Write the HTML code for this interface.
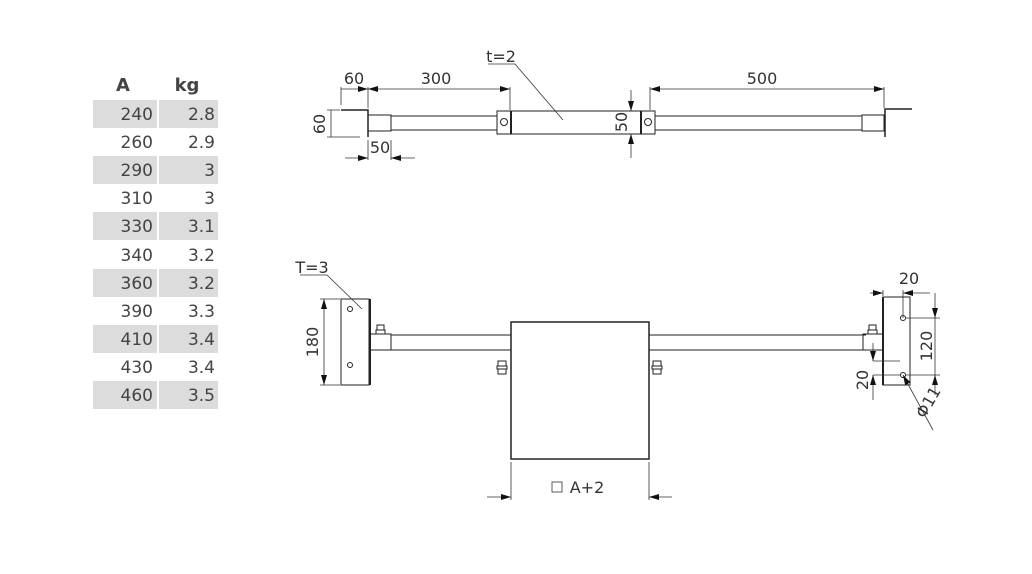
<!DOCTYPE html>
<html><head><style>
body{margin:0;background:#fff;width:1032px;height:570px;overflow:hidden;font-family:"DejaVu Sans","Liberation Sans",sans-serif}
</style></head><body>
<svg width="1032" height="570" viewBox="0 0 1032 570" xmlns="http://www.w3.org/2000/svg">
<defs>
<marker id="a" viewBox="0 0 10 6" refX="10" refY="3" markerWidth="10" markerHeight="6" orient="auto-start-reverse" markerUnits="userSpaceOnUse"><path d="M0,0L10,3L0,6z" fill="#111"/></marker>
</defs>
<!-- table -->
<g font-size="17" fill="#444">
<text x="123" y="91" text-anchor="middle" font-weight="bold" font-size="18" fill="#444">A</text>
<text x="187" y="91" text-anchor="middle" font-weight="bold" font-size="18" fill="#444">kg</text>
<g fill="#dcdcdc">
<rect x="93" y="100" width="64" height="28"/><rect x="159" y="100" width="59" height="28"/>
<rect x="93" y="156" width="64" height="28"/><rect x="159" y="156" width="59" height="28"/>
<rect x="93" y="212" width="64" height="28"/><rect x="159" y="212" width="59" height="28"/>
<rect x="93" y="269" width="64" height="28"/><rect x="159" y="269" width="59" height="28"/>
<rect x="93" y="325" width="64" height="28"/><rect x="159" y="325" width="59" height="28"/>
<rect x="93" y="381" width="64" height="28"/><rect x="159" y="381" width="59" height="28"/>
</g>
<g text-anchor="end">
<text x="153" y="120">240</text><text x="215" y="120">2.8</text>
<text x="153" y="148">260</text><text x="215" y="148">2.9</text>
<text x="153" y="176">290</text><text x="215" y="176">3</text>
<text x="153" y="204">310</text><text x="215" y="204">3</text>
<text x="153" y="232">330</text><text x="215" y="232">3.1</text>
<text x="153" y="261">340</text><text x="215" y="261">3.2</text>
<text x="153" y="289">360</text><text x="215" y="289">3.2</text>
<text x="153" y="317">390</text><text x="215" y="317">3.3</text>
<text x="153" y="345">410</text><text x="215" y="345">3.4</text>
<text x="153" y="373">430</text><text x="215" y="373">3.4</text>
<text x="153" y="401">460</text><text x="215" y="401">3.5</text>
</g>
</g>
<!-- top view -->
<g stroke="#222" fill="none" stroke-width="1">
<path d="M341,110H368V137" stroke-width="1.5"/>
<rect x="368" y="115" width="23" height="16"/>
<path d="M391,116H497M391,130H497"/>
<rect x="497" y="111" width="158" height="23"/>
<path d="M511,111V134M641,111V134" stroke-width="2"/>
<circle cx="504" cy="122" r="3.5"/><circle cx="648" cy="122" r="3.5"/>
<path d="M655,116H862M655,130H862"/>
<rect x="862" y="115" width="22" height="16"/>
<path d="M885,137V109H912" stroke-width="1.5"/>
<g stroke="#333" stroke-width="0.8">
<path d="M341,87V105M368,87V108M510,87V110M650,87V110M884,87V108"/>
<path d="M341,89H368" marker-end="url(#a)"/><path d="M368,89H510" marker-start="url(#a)" marker-end="url(#a)"/>
<path d="M650,89H884" marker-start="url(#a)" marker-end="url(#a)"/>
<path d="M327,110H340M327,137H360M331,110V137" />
<path d="M368,140V160M391,140V160M345,158H368" marker-end="url(#a)"/><path d="M415,158H391" marker-end="url(#a)"/>
<path d="M631,90V111" marker-end="url(#a)"/><path d="M631,158V134" marker-end="url(#a)"/>
<path d="M488,64H515L563,120"/>
</g>
</g>
<g font-size="16" fill="#333" font-family="DejaVu Sans,sans-serif">
<text x="354" y="84" text-anchor="middle">60</text>
<text x="436" y="84" text-anchor="middle">300</text>
<text x="762" y="84" text-anchor="middle">500</text>
<text x="501" y="62" text-anchor="middle">t=2</text>
<text x="380" y="153" text-anchor="middle">50</text>
<text transform="translate(325,124) rotate(-90)" text-anchor="middle">60</text>
<text transform="translate(627,122) rotate(-90)" text-anchor="middle">50</text>
</g>
<!-- bottom view -->
<g stroke="#222" fill="none" stroke-width="1">
<rect x="341" y="299" width="28" height="86"/>
<path d="M370,299V385" stroke-width="2"/>
<rect x="369" y="334" width="22" height="16"/>
<path d="M391,335H511M391,350H511M649,335H866M649,350H866"/>
<rect x="511" y="322" width="138" height="137" stroke-width="1.5"/>
<rect x="883" y="297" width="27" height="88"/>
<path d="M883,297V385" stroke-width="2"/>
<rect x="863" y="334" width="20" height="16"/>
<circle cx="350" cy="309" r="2.5"/><circle cx="350" cy="365" r="2.5"/>
<circle cx="903" cy="318" r="2.5"/><circle cx="903" cy="375" r="2.5"/>
<rect x="377" y="325" width="7" height="5"/><rect x="376" y="330" width="9" height="4"/>
<rect x="869" y="325" width="7" height="5"/><rect x="868" y="330" width="9" height="4"/>
<rect x="498" y="361" width="8" height="5"/><rect x="497" y="366" width="10" height="3"/><rect x="498" y="369" width="8" height="5"/>
<rect x="653" y="361" width="8" height="5"/><rect x="652" y="366" width="10" height="3"/><rect x="653" y="369" width="8" height="5"/>
<g stroke="#333" stroke-width="0.8">
<path d="M320,299H340M320,385H340"/><path d="M324,341V299" marker-end="url(#a)"/><path d="M324,341V385" marker-end="url(#a)"/>
<path d="M300,275H327L362,309"/>
<path d="M511,462V500M649,462V500"/><path d="M487,497H511" marker-end="url(#a)"/><path d="M672,497H649" marker-end="url(#a)"/>
<path d="M883,290V296M903,290V318"/><path d="M870,293H883" marker-end="url(#a)"/><path d="M930,293H903" marker-end="url(#a)"/>
<path d="M906,318H940M906,375H940"/><path d="M935,293V318" marker-end="url(#a)"/><path d="M935,395V375" marker-end="url(#a)"/><path d="M935,318V375"/>
<path d="M873,343V361" marker-end="url(#a)"/><path d="M873,400V375" marker-end="url(#a)"/><path d="M873,361H900M873,375H900"/>
<path d="M933,430L903,375" marker-end="url(#a)"/>
</g>
</g>
<g font-size="16" fill="#333" font-family="DejaVu Sans,sans-serif">
<text x="312" y="273" text-anchor="middle">T=3</text>
<text transform="translate(318,342) rotate(-90)" text-anchor="middle">180</text>
<rect x="552" y="482" width="10" height="10" fill="none" stroke="#333" stroke-width="0.8"/>
<text x="587" y="493" text-anchor="middle">A+2</text>
<text x="909" y="284" text-anchor="middle">20</text>
<text transform="translate(932,346) rotate(-90)" text-anchor="middle">120</text>
<text transform="translate(868,380) rotate(-90)" text-anchor="middle">20</text>
<text transform="translate(933,405) rotate(-60)" text-anchor="middle">Φ11</text>
</g>
</svg>
</body></html>
